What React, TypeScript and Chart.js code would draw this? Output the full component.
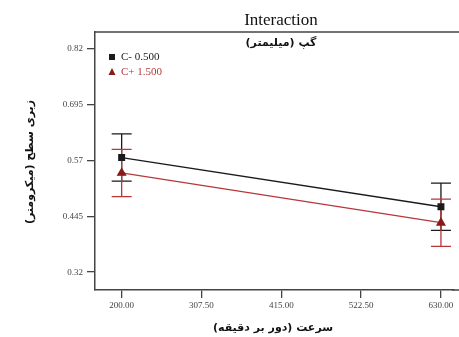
import React, { useEffect, useRef } from "react";
import { Chart, registerables } from "chart.js";

Chart.register(...registerables);

const speeds = [200, 630];
const lowGap = [0.5767, 0.4665];
const highGap = [0.5422, 0.4307];
const lowErr = [0.053, 0.053];
const highErr = [0.053, 0.053];
const xTicks = [200, 307.5, 415, 522.5, 630];
const yTicks = [0.32, 0.445, 0.57, 0.695, 0.82];
const seriesLabels = ["C- 0.500", "C+ 1.500"];
const titleText = "Interaction";
const subTitleText = "گپ (میلیمتر)";
const xTitle = "سرعت (دور بر دقیقه)";
const yTitle = "زبری سطح (میکرومتر)";

const BLACK = "#1a1a1a";
const RED = "#b8373a";
const DARKRED = "#8a1a1a";

export default function App() {
  const ref = useRef<HTMLCanvasElement>(null);
  useEffect(() => {
    document.body.style.margin = "0";
    document.body.style.background = "#fff";
    const errors = [lowErr, highErr];
    const errColors = [BLACK, RED];
    const plugin = {
      id: "custom",
      beforeDatasetsDraw(chart: any) {
        const ctx = chart.ctx;
        const xs = chart.scales.x;
        const ys = chart.scales.y;
        chart.data.datasets.forEach((ds: any, i: number) => {
          ctx.save();
          ctx.strokeStyle = errColors[i];
          ctx.lineWidth = 1.3;
          ds.data.forEach((p: any, j: number) => {
            const px = xs.getPixelForValue(p.x);
            const top = ys.getPixelForValue(p.y + errors[i][j]);
            const bot = ys.getPixelForValue(p.y - errors[i][j]);
            ctx.beginPath();
            ctx.moveTo(px, top);
            ctx.lineTo(px, bot);
            ctx.moveTo(px - 10, top);
            ctx.lineTo(px + 10, top);
            ctx.moveTo(px - 10, bot);
            ctx.lineTo(px + 10, bot);
            ctx.stroke();
          });
          ctx.restore();
        });
      },
      afterDraw(chart: any) {
        const ctx = chart.ctx;
        const a = chart.chartArea;
        const xs = chart.scales.x;
        ctx.save();
        ctx.strokeStyle = "#444";
        ctx.lineWidth = 1.5;
        ctx.beginPath();
        ctx.moveTo(a.left, a.top);
        ctx.lineTo(chart.width, a.top);
        ctx.moveTo(a.right - 1, a.bottom);
        ctx.lineTo(chart.width, a.bottom);
        ctx.stroke();
        ctx.fillStyle = "#444";
        ctx.textAlign = "center";
        ctx.textBaseline = "middle";
        ctx.font = "9px 'Liberation Serif', serif";
        xTicks.forEach((v) => {
          ctx.fillText(v.toFixed(2), xs.getPixelForValue(v), a.bottom + 16);
        });
        const cx = 281;
        ctx.fillStyle = "#111";
        ctx.font = "17px 'Liberation Serif', serif";
        ctx.fillText(titleText, cx, 21);
        ctx.font = "bold 11px 'DejaVu Sans', sans-serif";
        ctx.fillText(subTitleText, cx, 43);
        ctx.fillText(xTitle, 273, 328);
        ctx.save();
        ctx.translate(30, 162);
        ctx.rotate(-Math.PI / 2);
        ctx.fillText(yTitle, 0, 0);
        ctx.restore();
        ctx.textAlign = "left";
        ctx.font = "11px 'Liberation Serif', serif";
        ctx.fillStyle = BLACK;
        ctx.fillRect(109, 54, 6, 6);
        ctx.fillText(seriesLabels[0], 121, 57);
        ctx.fillStyle = DARKRED;
        ctx.beginPath();
        ctx.moveTo(112, 68);
        ctx.lineTo(115.5, 75);
        ctx.lineTo(108.5, 75);
        ctx.closePath();
        ctx.fill();
        ctx.fillStyle = RED;
        ctx.fillText(seriesLabels[1], 121, 72);
        ctx.restore();
      },
    };
    const chart = new Chart(ref.current!, {
      type: "line",
      data: {
        datasets: [
          {
            label: seriesLabels[0],
            data: speeds.map((s, i) => ({ x: s, y: lowGap[i] })),
            borderColor: BLACK,
            backgroundColor: BLACK,
            borderWidth: 1.3,
            pointStyle: "rect",
            pointRadius: 4,
          },
          {
            label: seriesLabels[1],
            data: speeds.map((s, i) => ({ x: s, y: highGap[i] })),
            borderColor: RED,
            backgroundColor: DARKRED,
            pointBorderColor: DARKRED,
            borderWidth: 1.3,
            pointStyle: "triangle",
            pointRadius: 4.5,
          },
        ],
      },
      options: {
        responsive: false,
        animation: false,
        layout: { padding: { top: 32, left: 0, right: 0, bottom: 0 } },
        plugins: {
          legend: { display: false },
          tooltip: { enabled: false },
          title: { display: false },
        },
        scales: {
          x: {
            type: "linear",
            min: 164.1,
            max: 646.5,
            afterBuildTicks: (s: any) => {
              s.ticks = xTicks.map((v) => ({ value: v }));
            },
            afterFit: (s: any) => {
              s.height = 47;
            },
            grid: { drawOnChartArea: false, drawTicks: true, tickLength: 8, color: "#444", lineWidth: 1.3 },
            border: { display: true, color: "#444", width: 1.5 },
            ticks: { display: false },
          },
          y: {
            type: "linear",
            min: 0.28,
            max: 0.858,
            afterBuildTicks: (s: any) => {
              s.ticks = yTicks.map((v) => ({ value: v }));
            },
            afterFit: (s: any) => {
              s.width = 95;
            },
            grid: { drawOnChartArea: false, drawTicks: true, tickLength: 8, color: "#444", lineWidth: 1.3 },
            border: { display: true, color: "#444", width: 1.5 },
            ticks: {
              color: "#444",
              font: { family: "'Liberation Serif', serif", size: 9 },
              padding: 4,
              callback: (v: any) => String(Number(v)),
            },
          },
        },
      },
      plugins: [plugin],
    } as any);
    return () => chart.destroy();
  }, []);
  return <canvas ref={ref} width={459} height={337} style={{ display: "block" }} />;
}
